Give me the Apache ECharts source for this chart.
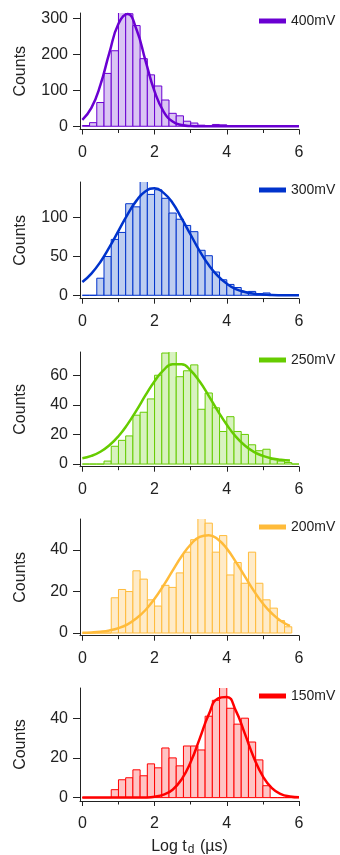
<!DOCTYPE html>
<html>
<head>
<meta charset="utf-8">
<script src="https://cdn.jsdelivr.net/npm/echarts@6/dist/echarts.min.js"></script>
<style>
  html, body { margin: 0; padding: 0; background: #fff; }
  #chart { width: 340px; height: 855px; }
</style>
</head>
<body>
<div id="chart"></div>
<script>
// left edges of the histogram bins (log t_d)
const bins = [0.0, 0.2, 0.4, 0.6, 0.8, 1.0, 1.2, 1.4, 1.6, 1.8, 2.0, 2.2, 2.4, 2.6, 2.8,
              3.0, 3.2, 3.4, 3.6, 3.8, 4.0, 4.2, 4.4, 4.6, 4.8, 5.0, 5.2, 5.4, 5.6, 5.8];

const counts400 = [2, 10, 66, 147, 210, 318, 313, 280, 188, 143, 112, 73, 36, 29, 14,
                   9, 3, 2, 5, 4, 2, 1, 1, 2, 1, 1, 1, 1, 1, 0];
const counts300 = [0, 0, 22, 50, 72, 81, 118, 114, 150, 130, 136, 125, 106, 98, 90,
                   82, 58, 51, 30, 20, 14, 10, 4, 5, 2, 3, 1, 1, 1, 0];
const counts250 = [0, 0, 0, 2, 12, 16, 19, 33, 35, 44, 60, 75, 78, 59, 63,
                   67, 37, 48, 38, 22, 32, 22, 20, 13, 9, 10, 3, 2, 1, 0];
const counts200 = [0, 0, 0, 0, 17, 21, 20, 30, 26, 16, 13, 23, 22, 29, 39,
                   45, 57, 53, 39, 47, 28, 34, 24, 39, 24, 16, 12, 6, 3, null];
const counts150 = [0, 0, 0, 0, 4, 9, 10, 14, 11, 17, 15, 25, 20, 16, 26,
                   26, 24, 41, 49, 58, 45, 37, 40, 28, 19, 6, 0, 0, 0, 0];

// gaussian fit curves
const fitX = [0, 0.25, 0.5, 0.75, 1.0, 1.25, 1.5, 1.75, 2.0, 2.25, 2.5, 2.75, 3.0,
              3.25, 3.5, 3.75, 4.0, 4.25, 4.5, 4.75, 5.0, 5.25, 5.5, 5.75, 6.0];
const fit400 = [18, 51, 115, 205, 285, 312, 269, 182, 97, 41, 13, 3.5, 0.7,
                0.1, 0, 0, 0, 0, 0, 0, 0, 0, 0, 0, 0];
const fit300 = [17, 28, 43, 62, 83, 104, 122, 134, 138, 132, 119, 99, 78,
                57, 39, 25, 15, 8, 4.3, 2.1, 1, 0.4, 0.15, 0.05, 0];
const fit250 = [3.9, 5.5, 8.3, 12.7, 18.8, 26.8, 36.3, 46.5, 56, 63.5, 67.5, 67.4, 63.2,
                55.7, 46.1, 35.9, 26.5, 18.5, 12.5, 8.2, 5.5, 3.8, 2.9, 2.4, null];
const fit200 = [0.12, 0.28, 0.61, 1.24, 2.35, 4.2, 7.1, 11.1, 16.5, 23, 30.1, 37, 42.7,
                46.4, 47.2, 45.2, 40.7, 34.3, 27.3, 20.3, 14.2, 9.4, 5.8, 3.4, null];
const fit150 = [0, 0, 0, 0, 0, 0, 0.03, 0.1, 0.47, 1.5, 4, 9.2, 17.9,
                29.7, 41.8, 49.9, 50.7, 43.8, 32.2, 20.1, 10.7, 4.8, 1.8, 0.6, 0.17];

const names = ['400mV', '300mV', '250mV', '200mV', '150mV'];
const xTicks = [0, 2, 4, 6];
const xMinorTicks = [1, 3, 5];
const yTicks400 = [0, 100, 200, 300];
const yTicks300 = [0, 50, 100];
const yTicks250 = [0, 20, 40, 60];
const yTicks200 = [0, 20, 40];
const yTicks150 = [0, 20, 40];

const allCounts = [counts400, counts300, counts250, counts200, counts150];
const allFits = [fit400, fit300, fit250, fit200, fit150];
const allYTicks = [yTicks400, yTicks300, yTicks250, yTicks200, yTicks150];

// layout / style per panel
const panels = [
  { top: 13,  height: 116.5, yMin: -9,   yMax: 315,  line: '#6a00d2', fill: '#dac5f3' },
  { top: 182, height: 116.7, yMin: -4.4, yMax: 146,  line: '#0033cc', fill: '#bdcdf0' },
  { top: 352, height: 114.7, yMin: -1.8, yMax: 75.7, line: '#66cc00', fill: '#d8f2c0' },
  { top: 519, height: 116.7, yMin: -1.3, yMax: 55,   line: '#ffbb3a', fill: '#ffebc8' },
  { top: 688, height: 113,   yMin: -1.7, yMax: 55.2, line: '#ff0000', fill: '#ffc4c4' }
];

const binW = bins[1] - bins[0];
const FONT = '"Liberation Sans", Arial, sans-serif';
const ink = '#222';

let chart = echarts.init(document.getElementById('chart'), null, { renderer: 'canvas' });

let grid = [], xAxis = [], yAxis = [], series = [], legend = [];

panels.forEach((p, i) => {
  grid.push({ left: 80, width: 219, top: p.top, height: p.height, outerBoundsMode: 'none', containLabel: false });

  // main x axis
  xAxis.push({
    type: 'value', gridIndex: i, position: 'bottom',
    min: -0.065, max: 6,
    axisLine: { show: true, onZero: false, lineStyle: { color: ink, width: 1 } },
    axisTick: { show: true, customValues: xTicks, length: 5, lineStyle: { color: ink } },
    axisLabel: { show: true, customValues: xTicks, fontSize: 16, color: ink, margin: 15, fontFamily: FONT },
    splitLine: { show: false },
    name: i === 4 ? '{a|Log t}{s|d}{a| (\u00b5s)}' : '',
    nameLocation: 'middle',
    nameGap: 36,
    nameTextStyle: {
      rich: {
        a: { fontSize: 16, color: ink, fontFamily: FONT },
        s: { fontSize: 12, color: ink, fontFamily: FONT, padding: [7, 1, 0, 1] }
      }
    }
  });
  // minor ticks at odd values
  xAxis.push({
    type: 'value', gridIndex: i, position: 'bottom',
    min: -0.065, max: 6,
    axisLine: { show: false, onZero: false },
    axisTick: { show: true, customValues: xMinorTicks, length: 3.5, lineStyle: { color: ink } },
    axisLabel: { show: false },
    splitLine: { show: false }
  });

  yAxis.push({
    type: 'value', gridIndex: i,
    min: p.yMin, max: p.yMax,
    axisLine: { show: true, onZero: false, lineStyle: { color: ink, width: 1 } },
    axisTick: { show: true, customValues: allYTicks[i], length: 7, lineStyle: { color: ink } },
    axisLabel: { show: true, customValues: allYTicks[i], fontSize: 16, color: ink, margin: 12, fontFamily: FONT },
    splitLine: { show: false },
    name: 'Counts',
    nameLocation: 'middle',
    nameGap: 51,
    nameTextStyle: { fontSize: 16, color: ink, fontFamily: FONT }
  });

  series.push({
    type: 'custom',
    xAxisIndex: 2 * i, yAxisIndex: i,
    clip: true,
    silent: true,
    data: bins.map((b, k) => [b, allCounts[i][k]]).filter(d => d[1] !== null),
    renderItem: (params, api) => {
      let x0 = api.value(0), v = api.value(1);
      let a = api.coord([x0, 0]);
      let b = api.coord([x0 + binW, v]);
      return {
        type: 'rect',
        shape: { x: a[0], y: b[1], width: b[0] - a[0], height: a[1] - b[1] },
        style: { fill: p.fill, stroke: p.line, lineWidth: 1 }
      };
    },
    z: 2
  });

  series.push({
    type: 'line',
    name: names[i],
    xAxisIndex: 2 * i, yAxisIndex: i,
    data: fitX.map((x, k) => [x, allFits[i][k]]).filter(d => d[1] !== null),
    smooth: 0.5,
    showSymbol: false,
    clip: true,
    silent: true,
    lineStyle: { color: p.line, width: 2.5 },
    itemStyle: { color: p.line },
    z: 3
  });

  legend.push({
    data: [{ name: names[i], icon: 'rect' }],
    left: 259, top: p.top + 1,
    padding: 0,
    itemWidth: 27, itemHeight: 5,
    selectedMode: false,
    textStyle: { fontSize: 14, color: ink, fontFamily: FONT },
    itemStyle: { color: p.line }
  });
});

let option = {
  animation: false,
  backgroundColor: '#fff',
  textStyle: { fontFamily: FONT },
  grid: grid,
  xAxis: xAxis,
  yAxis: yAxis,
  legend: legend,
  series: series
};
chart.setOption(option);
window.addEventListener('resize', () => { chart.resize() });
</script>
</body>
</html>
